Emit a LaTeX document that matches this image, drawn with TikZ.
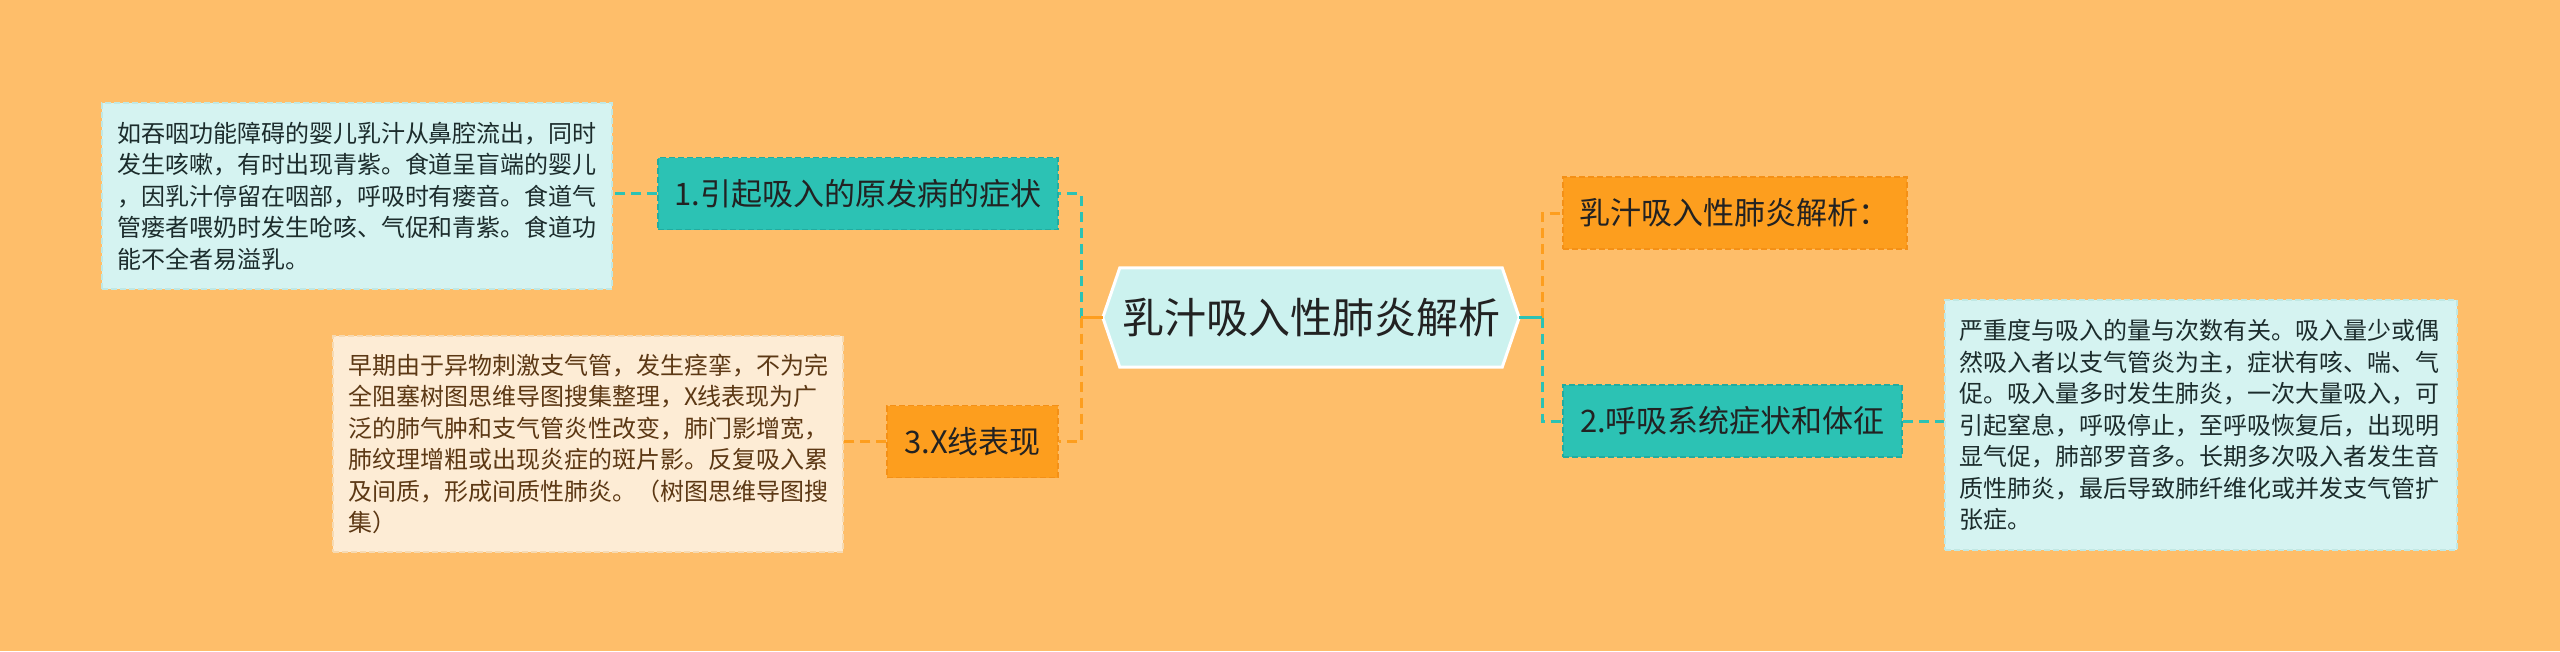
\documentclass[tikz,border=0pt]{standalone}
\usepackage{fontspec}
\setmainfont{Noto Sans CJK SC}
\definecolor{bgc}{RGB}{254,190,106}
\definecolor{tealc}{RGB}{44,194,180}
\definecolor{tealb}{RGB}{34,172,160}
\definecolor{orangec}{RGB}{253,158,30}
\definecolor{orangeb}{RGB}{244,144,22}
\definecolor{cyanc}{RGB}{213,243,241}
\definecolor{cyanb}{RGB}{192,232,228}
\definecolor{creamc}{RGB}{253,236,213}
\definecolor{creamb}{RGB}{246,218,178}
\definecolor{rootc}{RGB}{204,242,239}
\definecolor{darktext}{RGB}{34,34,34}
\definecolor{detailtext}{RGB}{28,44,44}
\definecolor{browntext}{RGB}{92,56,20}
\tikzset{
  detailbox/.style={rectangle, draw=#1, line width=1.5pt, dash pattern=on 6pt off 3pt,
    inner xsep=15pt, inner ysep=0pt, align=left, text width=480pt,
    font=\fontsize{24}{31.5}\selectfont},
  topicbox/.style={rectangle, draw=#1, line width=1.5pt, dash pattern=on 6pt off 3pt,
    inner sep=0pt, align=center, text=darktext, minimum height=72pt,
    font=\fontsize{31}{36}\selectfont},
  conn/.style={line width=3pt, dash pattern=on 10pt off 6pt},
  stub/.style={line width=3pt},
}
\begin{document}
\begin{tikzpicture}[x=1pt,y=-1pt]
\useasboundingbox (0,0) rectangle (2560,651);
\fill[bgc] (0,0) rectangle (2560,651);

% root
\node[rectangle, minimum width=416pt, minimum height=99pt, inner sep=0pt] (root) at (1311,317.5) {};
\draw[fill=rootc, draw=white, line width=3pt, line join=miter]
  (root.west) -- ([xshift=17pt]root.north west) -- ([xshift=-17pt]root.north east)
  -- (root.east) -- ([xshift=-17pt]root.south east) -- ([xshift=17pt]root.south west) -- cycle;
\node[text=darktext, font=\fontsize{42}{48}\selectfont, inner sep=0pt] (roottext) at (root.center) {乳汁吸入性肺炎解析};

% topics
\node[topicbox=tealb, fill=tealc, minimum width=400pt] (n1) at (858,193.5) {1.引起吸入的原发病的症状};
\node[topicbox=orangeb, fill=orangec, minimum width=171pt] (n3) at (972.5,441.5) {3.X线表现};
\node[topicbox=orangeb, fill=orangec, minimum width=344pt, align=left, text width=312pt] (na) at (1735,213) {乳汁吸入性肺炎解析：};
\node[topicbox=tealb, fill=tealc, minimum width=339pt] (n2) at (1732.5,421) {2.呼吸系统症状和体征};

% details
\node[detailbox=cyanb, fill=cyanc, text=detailtext, minimum height=186pt] (d1) at (357,196) {如吞咽功能障碍的婴儿乳汁从鼻腔流出，同时\\发生咳嗽，有时出现青紫。食道呈盲端的婴儿\\，因乳汁停留在咽部，呼吸时有瘘音。食道气\\管瘘者喂奶时发生呛咳、气促和青紫。食道功\\能不全者易溢乳。};
\node[detailbox=creamb, fill=creamc, text=browntext, minimum height=216pt] (d3) at (588,444) {早期由于异物刺激支气管，发生痉挛，不为完\\全阻塞树图思维导图搜集整理，X线表现为广\\泛的肺气肿和支气管炎性改变，肺门影增宽，\\肺纹理增粗或出现炎症的斑片影。反复吸入累\\及间质，形成间质性肺炎。（树图思维导图搜\\集）};
\node[detailbox=cyanb, fill=cyanc, text=detailtext, minimum height=250pt, inner xsep=14pt, text width=484pt] (d2) at (2201,425) {严重度与吸入的量与次数有关。吸入量少或偶\\然吸入者以支气管炎为主，症状有咳、喘、气\\促。吸入量多时发生肺炎，一次大量吸入，可\\引起窒息，呼吸停止，至呼吸恢复后，出现明\\显气促，肺部罗音多。长期多次吸入者发生音\\质性肺炎，最后导致肺纤维化或并发支气管扩\\张症。};

% spines
\coordinate (lspine) at (1081,0);
\coordinate (rspine) at (1542,0);

% left connectors
\draw[conn, tealc] (root.west -| lspine) -- (n1.east -| lspine) -- (n1.east);
\draw[conn, orangec] (root.west -| lspine) -- (n3.east -| lspine) -- (n3.east);
\draw[stub, orangec] (root.west) -- (root.west -| lspine);

% right connectors
\draw[conn, orangec] (root.east -| rspine) -- (na.west -| rspine) -- (na.west);
\draw[conn, tealc] (root.east -| rspine) -- (n2.west -| rspine) -- (n2.west);
\draw[stub, tealc] (root.east) -- (root.east -| rspine);

% detail connectors
\draw[conn, tealc] (n1.west) -- (n1.west -| d1.east);
\draw[conn, orangec] (n3.west) -- (n3.west -| d3.east);
\draw[conn, tealc] (n2.east) -- (n2.east -| d2.west);
\end{tikzpicture}
\end{document}
